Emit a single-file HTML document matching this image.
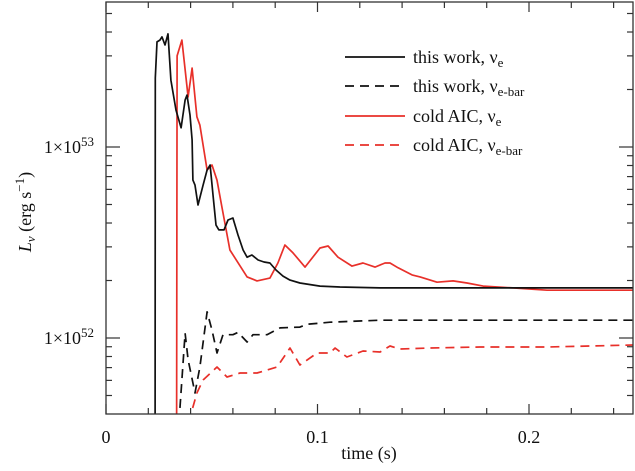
<!DOCTYPE html>
<html><head><meta charset="utf-8"><style>
html,body{margin:0;padding:0;background:#fff}
svg text{font-family:"Liberation Serif",serif;fill:#111}
</style></head><body>
<svg id="chart" width="635" height="466" viewBox="0 0 635 466" xmlns="http://www.w3.org/2000/svg">
<g id="axes"></g>
<defs><clipPath id="clip"><rect x="106" y="2" width="527" height="412"/></clipPath></defs>
<g id="series" clip-path="url(#clip)"></g>
<rect x="106" y="2" width="527" height="412" fill="none" stroke="#333" stroke-width="1.3"/>
<g>
 <g>
  <line x1="345" y1="57" x2="405" y2="57" stroke="#111" stroke-width="1.8"/>
  <text x="413" y="63" font-size="18">this work, ν<tspan font-size="13" dy="4">e</tspan></text></g>
 <g>
  <line x1="345" y1="86" x2="405" y2="86" stroke="#111" stroke-width="1.8" stroke-dasharray="9,6"/>
  <text x="413" y="92" font-size="18">this work, ν<tspan font-size="13" dy="4">e-bar</tspan></text></g>
 <g>
  <line x1="345" y1="116" x2="405" y2="116" stroke="#e8302a" stroke-width="1.8"/>
  <text x="413" y="122" font-size="18">cold AIC, ν<tspan font-size="13" dy="4">e</tspan></text></g>
 <g>
  <line x1="345" y1="145" x2="405" y2="145" stroke="#e8302a" stroke-width="1.8" stroke-dasharray="9,6"/>
  <text x="413" y="151" font-size="18">cold AIC, ν<tspan font-size="13" dy="4">e-bar</tspan></text></g>
</g>
<text x="369" y="459" font-size="18" text-anchor="middle">time (s)</text>
<text transform="translate(31,212) rotate(-90)" font-size="18" text-anchor="middle"><tspan font-style="italic">L</tspan><tspan font-style="italic" font-size="13" dy="4">ν</tspan><tspan dy="-4"> (erg s</tspan><tspan font-size="13" dy="-7">−1</tspan><tspan dy="7">)</tspan></text>
</svg>
<script>
// values: time in s, luminosity in units of 1e52 erg/s
const bsT=[0.0232,0.0233,0.0241,0.0255,0.0265,0.0279,0.0293,0.0307,0.0331,0.0355,0.0374,0.0383,0.0397,0.0407,0.0411,0.0421,0.0435,0.0459,0.0478,0.0492,0.0506,0.0520,0.0534,0.0558,0.0577,0.0600,0.0624,0.0648,0.0667,0.0690,0.0719,0.0747,0.0775,0.0804,0.0837,0.0870,0.0917,0.1012,0.1106,0.1296,0.2492];
const bsL=[0.3,22.97,35.5,36.3,37.7,34.2,39.1,22.4,15.6,12.6,17.6,18.7,14.7,10.9,6.71,6.32,4.97,6.32,7.58,8.05,5.61,3.90,3.68,3.68,4.15,4.25,3.46,2.89,2.65,2.72,2.56,2.50,2.47,2.27,2.11,2.01,1.94,1.87,1.85,1.83,1.83];
const rsT=[0.0334,0.0336,0.0359,0.0388,0.0407,0.0430,0.0444,0.0478,0.0501,0.0525,0.0548,0.0586,0.0667,0.0714,0.0775,0.0813,0.0846,0.0884,0.0941,0.1012,0.1050,0.1097,0.1163,0.1215,0.1272,0.1319,0.1343,0.1381,0.1447,0.1485,0.1565,0.1641,0.1707,0.1783,0.1924,0.2085,0.2241,0.2492];
const rsL=[0.3,30,36.3,18.3,25.9,14.4,13.0,7.58,8.05,6.7,4.85,2.89,2.09,1.99,2.06,2.47,3.07,2.79,2.35,2.96,3.03,2.65,2.38,2.47,2.35,2.47,2.47,2.33,2.14,2.09,1.96,1.99,1.94,1.87,1.83,1.78,1.78,1.78];
const bdT=[0.0340,0.0374,0.0388,0.0421,0.0444,0.0478,0.0501,0.0525,0.0553,0.0600,0.0624,0.0667,0.0695,0.0761,0.0823,0.0917,0.0950,0.1059,0.1296,0.2492];
const bdL=[0.30,1.06,0.77,0.515,0.705,1.37,1.10,0.835,1.04,1.04,1.07,0.953,1.04,1.04,1.13,1.14,1.18,1.21,1.24,1.24];
const rdT=[0.0400,0.0407,0.0430,0.0459,0.0525,0.0572,0.0634,0.0714,0.0809,0.0870,0.0917,0.0998,0.1059,0.1083,0.1139,0.1215,0.1296,0.1343,0.1390,0.1532,0.1768,0.2085,0.2492];
const rdL=[0.30,0.42,0.515,0.603,0.705,0.625,0.656,0.656,0.705,0.886,0.722,0.835,0.835,0.886,0.795,0.855,0.845,0.908,0.876,0.886,0.897,0.897,0.919];
const xTicks=[0,0.1,0.2];
const xTickLabels=["0","0.1","0.2"];
const yDecades=[52,53];
const yDecadeLabels=["52","53"];

const NS="http://www.w3.org/2000/svg";
const X0=106,X1=633,Y0=414,Y1=2;
const xs=t=>X0+t*2115;
const ys=L=>338-Math.log10(L)*191;
const axes=document.getElementById('axes'), series=document.getElementById('series');
function mk(tag,attrs,parent){const e=document.createElementNS(NS,tag);for(const k in attrs)e.setAttribute(k,attrs[k]);parent.appendChild(e);return e;}
for(let i=0;i<=12;i++){const t=i*0.02,x=xs(t);if(x>X1)break;const major=Math.abs(t*10-Math.round(t*10))<1e-9;const len=major?10:6;
 const a=mk('line',{x1:x,y1:Y0,x2:x,y2:Y0-len,stroke:'#333','stroke-width':1.2},axes);
 
 
 const b=mk('line',{x1:x,y1:Y1,x2:x,y2:Y1+len,stroke:'#333','stroke-width':1.2},axes);
 
 }
xTicks.forEach((t,i)=>{const tx=mk('text',{x:xs(t),y:443,'font-size':18,'text-anchor':'middle'},axes);tx.textContent=xTickLabels[i];
 
 });
for(let d=51;d<=53;d++){for(let m=1;m<=9;m++){const L=m*Math.pow(10,d-52);const y=ys(L);if(y<Y1||y>Y0)continue;const len=m===1?14:6;
 const a=mk('line',{x1:X0,y1:y,x2:X0+len,y2:y,stroke:'#333','stroke-width':1.2},axes);
 
 
 const b=mk('line',{x1:X1,y1:y,x2:X1-len,y2:y,stroke:'#333','stroke-width':1.2},axes);
 
 }}
yDecades.forEach((d,i)=>{const y=ys(Math.pow(10,d-52));const tx=mk('text',{x:94,y:y+6,'font-size':18,'text-anchor':'end'},axes);
 tx.innerHTML='1×10<tspan font-size="13" dy="-7">'+yDecadeLabels[i]+'</tspan>';
 
 });
function line(T,L,color,dash,name){const d=T.map((t,i)=>(i?'L':'M')+xs(t).toFixed(1)+','+ys(L[i]).toFixed(1)).join('');
 const p=mk('path',{d:d,fill:'none',stroke:color,'stroke-width':1.7,'stroke-linejoin':'round'},series);
 if(dash)p.setAttribute('stroke-dasharray',dash);
 
 }
line(rdT,rdL,'#e8302a','9,6','cold-aic-nuebar-line');
line(bdT,bdL,'#111','9,6','this-work-nuebar-line');
line(rsT,rsL,'#e8302a',null,'cold-aic-nue-line');
line(bsT,bsL,'#111',null,'this-work-nue-line');
</script>
</body></html>
